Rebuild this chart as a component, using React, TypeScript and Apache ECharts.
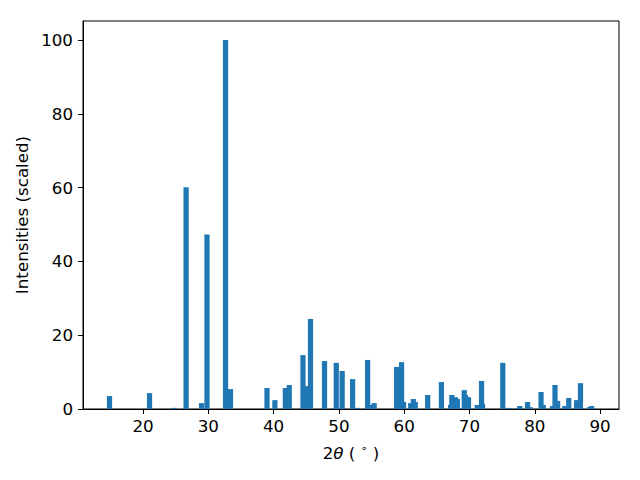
import React, { useEffect, useRef } from "react";
import * as echarts from "echarts";

const twoTheta: number[] = [
  14.87, 21.0, 24.8, 26.6, 28.97, 29.8, 32.64, 33.4, 38.99, 40.2, 41.8, 42.4,
  44.5, 44.9, 45.65, 47.8, 49.6, 50.5, 52.1, 52.85, 54.4, 55.0, 55.4, 58.83,
  59.6, 59.9, 61.0, 61.4, 61.7, 63.6, 65.7, 67.1, 67.3, 67.85, 68.15, 69.2,
  69.4, 69.85, 71.2, 71.85, 72.0, 75.1, 76.0, 77.2, 77.7, 78.9, 79.3, 80.96,
  81.3, 82.7, 83.1, 83.5, 84.6, 85.2, 86.4, 87.0, 88.4, 88.7,
];
const intensities: number[] = [
  3.5, 4.3, 0.3, 60.1, 1.6, 47.3, 100, 5.4, 5.7, 2.4, 5.7, 6.5,
  14.6, 6.2, 24.4, 13.0, 12.5, 10.3, 8.1, 0.3, 13.3, 1.1, 1.6, 11.4,
  12.7, 1.9, 1.6, 2.7, 1.9, 3.8, 7.3, 1.1, 3.8, 3.2, 2.7, 5.1,
  3.8, 3.2, 1.1, 7.6, 1.4, 12.5, 0.3, 0.2, 0.8, 1.9, 0.5, 4.6,
  1.1, 0.8, 6.5, 2.2, 0.8, 3.0, 2.4, 7.0, 0.5, 0.8,
];
const xTicks: number[] = [20, 30, 40, 50, 60, 70, 80, 90];
const yTicks: number[] = [0, 20, 40, 60, 80, 100];

const BAR_WIDTH = 0.8;
const FONT = "DejaVu Sans";
const FS = 16.7;

export default function App() {
  const ref = useRef<HTMLDivElement>(null);
  useEffect(() => {
    if (!ref.current) return;
    const chart = echarts.init(ref.current, null, { renderer: "svg" });
    const data = twoTheta.map((x, i) => [x, intensities[i]]);
    chart.setOption({
      animation: false,
      grid: {
        left: 83,
        right: 21,
        top: 21,
        bottom: 71,
        show: true,
        borderColor: "#000",
        borderWidth: 1,
        backgroundColor: "transparent",
      },
      xAxis: {
        type: "value",
        min: 10.81,
        max: 92.9,
        name: "{n|2}{i|θ}{n| ( }{s|∘}{n| )}",
        nameLocation: "middle",
        nameGap: 34,
        nameTextStyle: {
          rich: {
            n: { fontFamily: FONT, fontSize: FS, color: "#000", lineHeight: 20 },
            i: { fontFamily: FONT, fontSize: FS, fontStyle: "italic", color: "#000", lineHeight: 20 },
            s: { fontFamily: FONT, fontSize: 11, color: "#000", lineHeight: 20, verticalAlign: "top" },
          },
        },
        axisLine: { show: true, lineStyle: { color: "#000", width: 1 } },
        axisTick: {
          show: true,
          inside: false,
          length: 5,
          lineStyle: { color: "#000" },
          customValues: xTicks,
        },
        axisLabel: {
          color: "#000",
          fontFamily: FONT,
          fontSize: FS,
          margin: 8,
          customValues: xTicks,
        },
        splitLine: { show: false },
      },
      yAxis: {
        type: "value",
        min: 0,
        max: 105.15,
        name: "Intensities (scaled)",
        nameLocation: "middle",
        nameGap: 49,
        nameTextStyle: { fontFamily: FONT, fontSize: FS, color: "#000" },
        axisLine: { show: true, lineStyle: { color: "#000", width: 1 } },
        axisTick: {
          show: true,
          inside: false,
          length: 5,
          lineStyle: { color: "#000" },
          customValues: yTicks,
        },
        axisLabel: {
          color: "#000",
          fontFamily: FONT,
          fontSize: FS,
          margin: 10,
          customValues: yTicks,
        },
        splitLine: { show: false },
      },
      series: [
        {
          type: "custom",
          data,
          encode: { x: 0, y: 1 },
          renderItem: (params: any, api: any) => {
            const x = api.value(0);
            const y = api.value(1);
            const p1 = api.coord([x - BAR_WIDTH / 2, y]);
            const p2 = api.coord([x + BAR_WIDTH / 2, 0]);
            return {
              type: "rect",
              shape: {
                x: p1[0],
                y: p1[1],
                width: p2[0] - p1[0],
                height: p2[1] - p1[1],
              },
              style: { fill: "#1f77b4" },
            };
          },
        },
      ],
    });
    return () => chart.dispose();
  }, []);
  return <div ref={ref} style={{ width: 640, height: 480, position: "absolute", left: 0, top: 0 }} />;
}
